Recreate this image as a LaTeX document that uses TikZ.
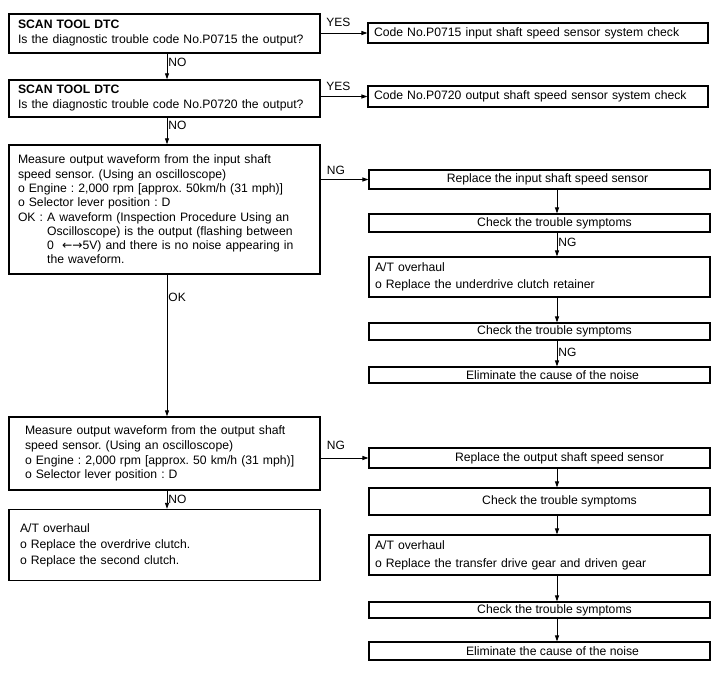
\documentclass[tikz,border=0pt]{standalone}
\usepackage{fontspec}
\setmainfont{Liberation Sans}
\newfontfamily\symfont{DejaVu Sans}
\usetikzlibrary{arrows.meta}
\begin{document}
\frenchspacing
\begin{tikzpicture}[x=1pt,y=-1pt,
  font=\fontsize{12.2}{15}\selectfont\frenchspacing,
  lbox/.style={draw, line width=1.4pt, align=left, inner xsep=9pt, inner ysep=0pt},
  rbox/.style={draw, line width=1.1pt, inner xsep=6pt, inner ysep=0pt},
  conn/.style={line width=0.9pt, -{Triangle[length=6pt,width=4pt]}},
  lab/.style={font=\fontsize{12}{14}\selectfont, inner sep=1pt}]
\useasboundingbox[fill=white] (0,0) rectangle (720,684);

% left column
\node[lbox, minimum width=311, minimum height=39, text width=293] (b1) at (164.5,33.5)
  {\textbf{SCAN TOOL DTC}\\Is the diagnostic trouble code No.P0715 the output?};
\node[lbox, minimum width=311, minimum height=37, text width=293] (b2) at (164.5,98.5)
  {\textbf{SCAN TOOL DTC}\\Is the diagnostic trouble code No.P0720 the output?};
\node[lbox, minimum width=311, minimum height=129, text width=293,
      font=\fontsize{12.2}{14.3}\selectfont\frenchspacing] (b3) at (164.5,209.5)
  {Measure output waveform from the input shaft\\
   speed sensor. (Using an oscilloscope)\\
   o Engine : 2,000 rpm [approx. 50km/h (31 mph)]\\
   o Selector lever position : D\\
   OK : A waveform (Inspection Procedure Using an\\
   \phantom{OK : }Oscilloscope) is the output (flashing between\\
   \phantom{OK : }0 \ {\symfont ←→}5V) and there is no noise appearing in\\
   \phantom{OK : }the waveform.\par\vspace*{19pt}};
\node[lbox, minimum width=311, minimum height=73, text width=279, inner xsep=16pt,
      font=\fontsize{12.2}{14.7}\selectfont\frenchspacing] (b5) at (164.5,453.5)
  {Measure output waveform from the output shaft\\
   speed sensor. (Using an oscilloscope)\\
   o Engine : 2,000 rpm [approx. 50 km/h (31 mph)]\\
   o Selector lever position : D};
\node[lbox, minimum width=311, minimum height=71, text width=289, inner xsep=11pt,
      font=\fontsize{12.2}{16}\selectfont\frenchspacing] (b6) at (164.5,545)
  {A/T overhaul\\
   o Replace the overdrive clutch.\\
   o Replace the second clutch.\par\vspace*{16pt}};

% top right
\node[rbox, minimum width=340, minimum height=20, text width=328, align=left] (r1) at (538,33)
  {Code No.P0715 input shaft speed sensor system check};
\node[rbox, minimum width=340, minimum height=21, text width=328, align=left] (r2) at (538,96.5)
  {Code No.P0720 output shaft speed sensor system check};

% right column, upper
\node[rbox, minimum width=341, minimum height=19] (n1) at (539.5,179.5)
  {\hspace*{16pt}Replace the input shaft speed sensor};
\node[rbox, minimum width=341, minimum height=18] (n2) at (539.5,223)
  {\hspace*{30pt}Check the trouble symptoms};
\node[rbox, minimum width=341, minimum height=40, text width=329, align=left,
      font=\fontsize{12.2}{17}\selectfont\frenchspacing] (n3) at (539.5,277)
  {A/T overhaul\\o Replace the underdrive clutch retainer};
\node[rbox, minimum width=341, minimum height=17] (n4) at (539.5,331.5)
  {\hspace*{30pt}Check the trouble symptoms};
\node[rbox, minimum width=341, minimum height=16] (n5) at (539.5,375)
  {\hspace*{26pt}Eliminate the cause of the noise};

% right column, lower
\node[rbox, minimum width=341, minimum height=20] (m1) at (539.5,458)
  {\hspace*{40pt}Replace the output shaft speed sensor};
\node[rbox, minimum width=341, minimum height=27] (m2) at (539.5,501.5)
  {\hspace*{40pt}Check the trouble symptoms};
\node[rbox, minimum width=341, minimum height=40, text width=329, align=left,
      font=\fontsize{12.2}{18}\selectfont\frenchspacing] (m3) at (539.5,555)
  {A/T overhaul\\o Replace the transfer drive gear and driven gear};
\node[rbox, minimum width=341, minimum height=16] (m4) at (539.5,610)
  {\hspace*{30pt}Check the trouble symptoms};
\node[rbox, minimum width=341, minimum height=18] (m5) at (539.5,651)
  {\hspace*{26pt}Eliminate the cause of the noise};

\coordinate (lx) at (167,0);
\coordinate (rx) at (557,0);

% left vertical connectors
\draw[conn] (b1.south -| lx) -- node[lab, right, pos=0.33] {NO} (b2.north -| lx);
\draw[conn] (b2.south -| lx) -- node[lab, right, pos=0.29] {NO} (b3.north -| lx);
\draw[conn] (b3.south -| lx) -- node[lab, right, pos=0.16] {OK} (b5.north -| lx);
\draw[conn] (b5.south -| lx) -- node[lab, right, pos=0.5] {NO} (b6.north -| lx);

% horizontal connectors
\draw[conn] (b1.east |- r1.west) -- node[lab, above, pos=0.38, yshift=5pt] {YES} (r1.west);
\draw[conn] (b2.east |- r2.west) -- node[lab, above, pos=0.38, yshift=4pt] {YES} (r2.west);
\draw[conn] (b3.east |- n1.west) -- node[lab, above, pos=0.32, yshift=3pt] {NG} (n1.west);
\draw[conn] (b5.east |- m1.west) -- node[lab, above, pos=0.32, yshift=7pt] {NG} (m1.west);

% right vertical connectors
\draw[conn] (n1.south -| rx) -- (n2.north -| rx);
\draw[conn] (n2.south -| rx) -- node[lab, right, pos=0.4] {NG} (n3.north -| rx);
\draw[conn] (n3.south -| rx) -- (n4.north -| rx);
\draw[conn] (n4.south -| rx) -- node[lab, right, pos=0.44] {NG} (n5.north -| rx);
\draw[conn] (m1.south -| rx) -- (m2.north -| rx);
\draw[conn] (m2.south -| rx) -- (m3.north -| rx);
\draw[conn] (m3.south -| rx) -- (m4.north -| rx);
\draw[conn] (m4.south -| rx) -- (m5.north -| rx);
\end{tikzpicture}
\end{document}
